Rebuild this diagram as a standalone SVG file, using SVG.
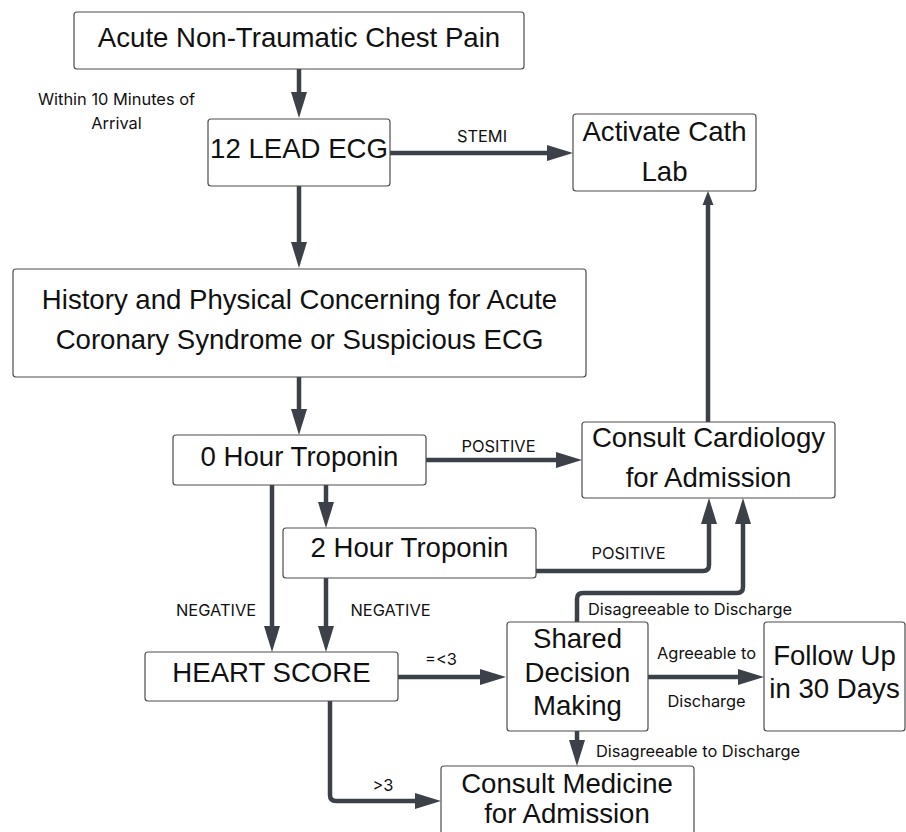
<svg xmlns="http://www.w3.org/2000/svg" width="906" height="832" viewBox="0 0 906 832">
<style>
.box{fill:#fff;stroke:#4d4d4d;stroke-width:1.2}
.nt{font-family:"Liberation Sans",Arial,sans-serif;font-size:27.6px;fill:#111;text-anchor:middle}
.lb{font-family:Inter,"Liberation Sans",sans-serif;font-size:16.4px;fill:#111;text-anchor:middle}
.c{fill:none;stroke:#3b4049;stroke-width:4.5;stroke-linejoin:round}
</style>
<defs>
<marker id="ah" markerUnits="userSpaceOnUse" markerWidth="27" markerHeight="17" refX="0" refY="8" orient="auto" overflow="visible">
<path d="M0,0 L26,8 L0,16 Z" fill="#3b4049"/>
</marker>
<marker id="ahs" markerUnits="userSpaceOnUse" markerWidth="15" markerHeight="12" refX="0" refY="5.5" orient="auto" overflow="visible">
<path d="M0,0 L14,5.5 L0,11 Z" fill="#3b4049"/>
</marker>
</defs>
<rect width="906" height="832" fill="#fff"/>
<g id="connectors">
<path class="c" d="M299,69 V92" marker-end="url(#ah)"/>
<path class="c" d="M390,153 H547" marker-end="url(#ah)"/>
<path class="c" d="M299,186 V242" marker-end="url(#ah)"/>
<path class="c" d="M299,377 V409" marker-end="url(#ah)"/>
<path class="c" d="M426,460 H556" marker-end="url(#ah)"/>
<path class="c" d="M708,422 V205" marker-end="url(#ahs)"/>
<path class="c" d="M326,485 V502" marker-end="url(#ah)"/>
<path class="c" d="M272,485 V626" marker-end="url(#ah)"/>
<path class="c" d="M326,578 V626" marker-end="url(#ah)"/>
<path class="c" d="M528,571 H703 Q709,571 709,565 V524" marker-end="url(#ah)"/>
<path class="c" d="M577,622 V599 Q577,593 583,593 H737 Q743,593 743,587 V524" marker-end="url(#ah)"/>
<path class="c" d="M398,677 H480" marker-end="url(#ah)"/>
<path class="c" d="M648,677 H738" marker-end="url(#ah)"/>
<path class="c" d="M577,731 V740" marker-end="url(#ah)"/>
<path class="c" d="M330,701 V795 Q330,801 336,801 H415" marker-end="url(#ah)"/>
<text class="lb" x="116.5" y="105">Within 10 Minutes of</text>
<text class="lb" x="116.5" y="129">Arrival</text>
<text class="lb" x="482" y="142">STEMI</text>
<text class="lb" x="498.5" y="452">POSITIVE</text>
<text class="lb" x="628.5" y="559">POSITIVE</text>
<text class="lb" x="216" y="616">NEGATIVE</text>
<text class="lb" x="390.5" y="616">NEGATIVE</text>
<text class="lb" x="441" y="665">=&lt;3</text>
<text class="lb" x="383" y="791">&gt;3</text>
<text class="lb" x="706.5" y="659">Agreeable to</text>
<text class="lb" x="706.5" y="707">Discharge</text>
<text class="lb" x="690" y="615">Disagreeable to Discharge</text>
<text class="lb" x="698" y="757">Disagreeable to Discharge</text>
</g>
<g id="chest-pain">
<rect class="box" x="74" y="12" width="450" height="57" rx="3"/>
<text class="nt" x="299" y="47">Acute Non-Traumatic Chest Pain</text>
</g>
<g id="ecg">
<rect class="box" x="208" y="119" width="182" height="67" rx="3"/>
<text class="nt" x="299" y="158">12 LEAD ECG</text>
</g>
<g id="cath-lab">
<rect class="box" x="573" y="114" width="183" height="77" rx="3"/>
<text class="nt" x="664.5" y="141">Activate Cath</text>
<text class="nt" x="664.5" y="181">Lab</text>
</g>
<g id="history">
<rect class="box" x="13" y="269" width="573" height="108" rx="3"/>
<text class="nt" x="299.5" y="309">History and Physical Concerning for Acute</text>
<text class="nt" x="299.5" y="349">Coronary Syndrome or Suspicious ECG</text>
</g>
<g id="trop0">
<rect class="box" x="173" y="435" width="253" height="50" rx="3"/>
<text class="nt" x="299.5" y="466">0 Hour Troponin</text>
</g>
<g id="cardiology">
<rect class="box" x="582" y="422" width="253" height="76" rx="3"/>
<text class="nt" x="708.5" y="447">Consult Cardiology</text>
<text class="nt" x="708.5" y="487">for Admission</text>
</g>
<g id="trop2">
<rect class="box" x="283" y="528" width="253" height="50" rx="3"/>
<text class="nt" x="409.5" y="557">2 Hour Troponin</text>
</g>
<g id="heart">
<rect class="box" x="145" y="652" width="253" height="49" rx="3"/>
<text class="nt" x="271.5" y="682">HEART SCORE</text>
</g>
<g id="shared">
<rect class="box" x="507" y="622" width="141" height="109" rx="3"/>
<text class="nt" x="577.5" y="648">Shared</text>
<text class="nt" x="577.5" y="682">Decision</text>
<text class="nt" x="577.5" y="715">Making</text>
</g>
<g id="follow-up">
<rect class="box" x="764" y="622" width="141" height="109" rx="3"/>
<text class="nt" x="834.5" y="665">Follow Up</text>
<text class="nt" x="834.5" y="698">in 30 Days</text>
</g>
<g id="medicine">
<rect class="box" x="441" y="766" width="253" height="90" rx="3"/>
<text class="nt" x="567" y="793">Consult Medicine</text>
<text class="nt" x="567" y="823">for Admission</text>
</g>
</svg>
